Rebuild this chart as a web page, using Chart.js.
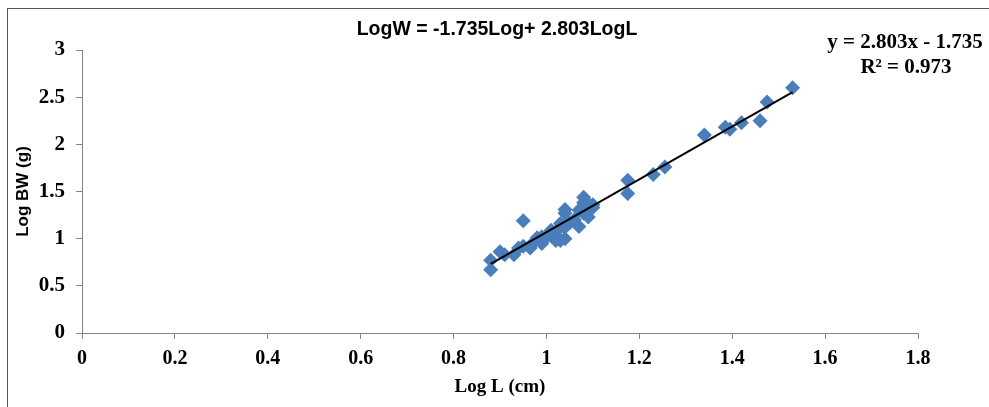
<!DOCTYPE html>
<html lang="en">

<head>
    <meta charset="UTF-8" />
    <title>LogW vs LogL</title>
    <script src="https://cdn.jsdelivr.net/npm/chart.js"></script>
    <style>
        body { margin: 0; background: #fff; }
        .wrap { position: relative; width: 989px; height: 407px; overflow: hidden; }
        .frame { position: absolute; left: 7px; top: 8px; width: 1000px; height: 420px;
                 border-left: 1px solid #555; border-top: 1px solid #555; }
        canvas { position: absolute; left: 0; top: 0; }
    </style>
</head>

<body>
    <div class="wrap">
        <div class="frame"></div>
        <canvas id="lwChart" width="989" height="407"></canvas>
    </div>

    <script>
        // Log L (cm) / Log BW (g)
        const logL = [0.88, 0.88, 0.90, 0.91, 0.93, 0.94, 0.95, 0.95, 0.965, 0.97,
            0.98, 0.99, 0.99, 1.00, 1.01, 1.01, 1.02, 1.02, 1.03, 1.03,
            1.04, 1.04, 1.04, 1.04, 1.05, 1.06, 1.07, 1.07, 1.08, 1.08,
            1.08, 1.09, 1.09, 1.10, 1.10, 1.175, 1.175, 1.23, 1.255, 1.34,
            1.385, 1.395, 1.42, 1.46, 1.475, 1.53];
        const logBW = [0.77, 0.67, 0.86, 0.83, 0.83, 0.90, 1.19, 0.92, 0.90, 0.95,
            1.01, 0.95, 1.02, 1.02, 1.09, 1.03, 0.98, 1.07, 1.16, 0.98,
            1.00, 1.31, 1.12, 1.27, 1.17, 1.20, 1.30, 1.13, 1.44, 1.38,
            1.27, 1.37, 1.23, 1.36, 1.33, 1.62, 1.48, 1.68, 1.76, 2.10,
            2.18, 2.16, 2.23, 2.25, 2.45, 2.60];

        const slope = 2.803;
        const intercept = -1.735;
        const rSquared = 0.973;

        const xTicks = ['0', '0.2', '0.4', '0.6', '0.8', '1', '1.2', '1.4', '1.6', '1.8'];
        const yTicks = ['0', '0.5', '1', '1.5', '2', '2.5', '3'];

        const points = logL.map((x, i) => ({ x: x, y: logBW[i] }));
        const xMin = Math.min(...logL), xMax = Math.max(...logL);
        const trend = [xMin, xMax].map(x => ({ x: x, y: slope * x + intercept }));

        const serif = "'Liberation Serif', 'DejaVu Serif', serif";
        const sans = "'Liberation Sans Narrow', 'Liberation Sans', sans-serif";

        const textPlugin = {
            id: 'textPlugin',
            afterDraw(chart) {
                const ctx = chart.ctx;
                ctx.save();
                ctx.fillStyle = '#000';
                ctx.textAlign = 'center';
                ctx.textBaseline = 'middle';
                ctx.font = "bold 19.5px " + sans;
                ctx.fillText('LogW = ' + intercept + 'Log+ ' + slope + 'LogL', 497, 30);
                ctx.font = "bold 21px " + serif;
                ctx.fillText('y = ' + slope + 'x - ' + Math.abs(intercept), 905, 43);
                ctx.fillText('R\u00B2 = ' + rSquared, 906, 68);
                ctx.restore();
            }
        };

        new Chart(document.getElementById('lwChart'), {
            type: 'scatter',
            data: {
                datasets: [{
                    type: 'line',
                    label: 'Linear (Log BW)',
                    data: trend,
                    borderColor: '#000',
                    borderWidth: 2,
                    pointRadius: 0,
                    fill: false,
                    order: 0
                }, {
                    label: 'Log BW',
                    data: points,
                    pointStyle: 'rectRot',
                    pointRadius: 7.5,
                    backgroundColor: '#4a7ebb',
                    borderColor: '#4a7ebb',
                    borderWidth: 0,
                    order: 1
                }]
            },
            options: {
                responsive: false,
                animation: false,
                layout: { padding: { top: 50, right: 71, left: 0, bottom: 0 } },
                plugins: {
                    legend: { display: false },
                    tooltip: { enabled: false }
                },
                scales: {
                    x: {
                        type: 'linear',
                        min: 0,
                        max: 1.8,
                        afterFit: s => { s.height = 74; },
                        afterBuildTicks: s => { s.ticks = xTicks.map(v => ({ value: parseFloat(v) })); },
                        ticks: {
                            callback: (v, i) => xTicks[i],
                            autoSkip: false,
                            maxRotation: 0,
                            padding: 8,
                            color: '#000',
                            font: { family: serif, size: 20, weight: 'bold' }
                        },
                        grid: { drawOnChartArea: false, drawTicks: true, tickLength: 6, color: '#868686' },
                        border: { display: true, color: '#868686', width: 1 },
                        title: {
                            display: true,
                            text: 'Log L (cm)',
                            color: '#000',
                            padding: { top: 0, bottom: 9 },
                            font: { family: serif, size: 19, weight: 'bold' }
                        }
                    },
                    y: {
                        min: 0,
                        max: 3,
                        afterFit: s => { s.width = 82; },
                        afterBuildTicks: s => { s.ticks = yTicks.map(v => ({ value: parseFloat(v) })); },
                        ticks: {
                            callback: (v, i) => yTicks[i],
                            padding: 11,
                            color: '#000',
                            font: { family: serif, size: 21, weight: 'bold' }
                        },
                        grid: { drawOnChartArea: false, drawTicks: true, tickLength: 6, color: '#868686' },
                        border: { display: true, color: '#868686', width: 1 },
                        title: {
                            display: true,
                            text: 'Log BW (g)',
                            color: '#000',
                            padding: { top: 13, bottom: 0 },
                            font: { family: sans, size: 17, weight: 'bold' }
                        }
                    }
                }
            },
            plugins: [textPlugin]
        });
    </script>
</body>

</html>
